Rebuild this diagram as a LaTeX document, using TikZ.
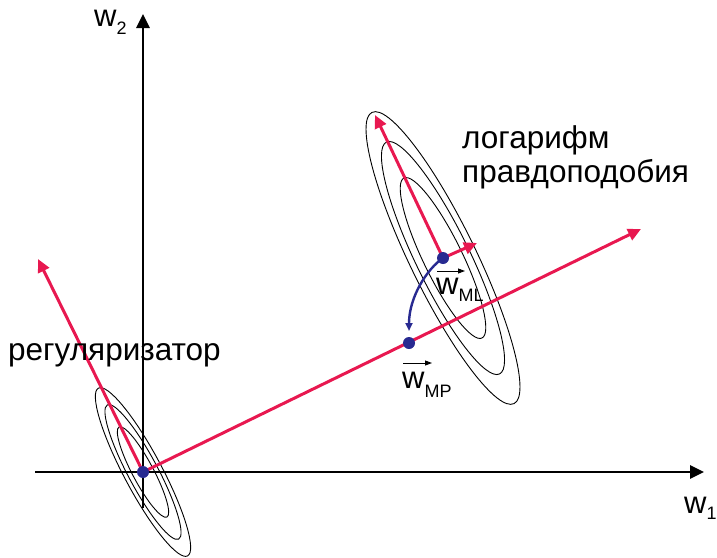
\documentclass[tikz,border=0pt]{standalone}
\usepackage{fontspec}
\setmainfont{Liberation Sans}
\usetikzlibrary{arrows.meta}
\definecolor{vred}{RGB}{232,24,80}
\definecolor{vblue}{RGB}{40,42,145}
\newcommand{\wsub}[2]{w\raisebox{-#2}{\fontsize{18}{18}\selectfont #1}}
\begin{document}
\begin{tikzpicture}[x=1pt,y=-1pt,
  axis/.style={line width=2.7pt, -{Triangle[length=14pt,width=13pt]}},
  redvec/.style={vred, line width=3pt, -{Triangle[length=13pt,width=12pt]}},
  contour/.style={line width=0.9pt},
  dotpt/.style={circle, fill=vblue, inner sep=0pt, minimum size=12pt},
  bigtxt/.style={inner sep=0pt, anchor=base west, font=\fontsize{31.5}{34}\selectfont},
  wtxt/.style={inner sep=0pt, anchor=base west, font=\fontsize{31}{32}\selectfont},
  overarrow/.style={line width=0.9pt, -{Triangle[length=7pt,width=5pt]}},
  bluearc/.style={vblue, line width=2.4pt, -{Triangle[length=8pt,width=7pt]}}
]
\useasboundingbox (0,0) rectangle (717,557);
% key points
\coordinate (o) at (143,472);
\coordinate (ml) at (443,258);
\coordinate (mp) at (409,343);
\coordinate (xL) at (35,472);
\coordinate (xR) at (704,472);
\coordinate (yB) at (143,508);
\coordinate (yT) at (143,14);
\coordinate (rtip1) at (641,229);
\coordinate (rtip2) at (38,259);
\coordinate (mltip1) at (375,115);
\coordinate (mltip2) at (477,243);
\coordinate (arctip) at (409,331);
% contours: likelihood
\foreach \a/\b in {162/33,129/27,89/19.5}
  \draw[contour] (ml) ellipse [x radius=\a pt, y radius=\b pt, rotate=116];
% contours: regulariser
\foreach \a/\b in {95/19,76/15,51/10.5}
  \draw[contour] (o) ellipse [x radius=\a pt, y radius=\b pt, rotate=118];
% axes
\draw[axis] (xL) -- (xR);
\draw[axis] (yB) -- (yT);
% red vectors
\draw[redvec] (o) -- (rtip1);
\draw[redvec] (o) -- (rtip2);
\draw[redvec] (ml) -- (mltip1);
\draw[redvec] (ml) -- (mltip2);
% blue arc
\draw[bluearc] (ml) .. controls (427,269) and (409,297) .. (arctip);
% dots
\node[dotpt] (O) at (o) {};
\node[dotpt] (ML) at (ml) {};
\node[dotpt] (MP) at (mp) {};
% labels
\node[wtxt] (w2) at (94,26) {\wsub{2}{8pt}};
\node[wtxt] (w1) at (684,513) {\wsub{1}{6pt}};
\node[wtxt] (wml) at (436,294) {\wsub{ML}{7pt}};
\node[wtxt] (wmp) at (402,388) {\wsub{MP}{9pt}};
\coordinate (vml0) at (437,271);
\coordinate (vml1) at (465,271);
\coordinate (vmp0) at (403,363);
\coordinate (vmp1) at (432,363);
\draw[overarrow] (vml0) -- (vml1);
\draw[overarrow] (vmp0) -- (vmp1);
\node[bigtxt] (reg) at (8,360) {регуляризатор};
\node[bigtxt] (lik1) at (462,148) {логарифм};
\node[bigtxt] (lik2) at (462,182) {правдоподобия};
\end{tikzpicture}
\end{document}
